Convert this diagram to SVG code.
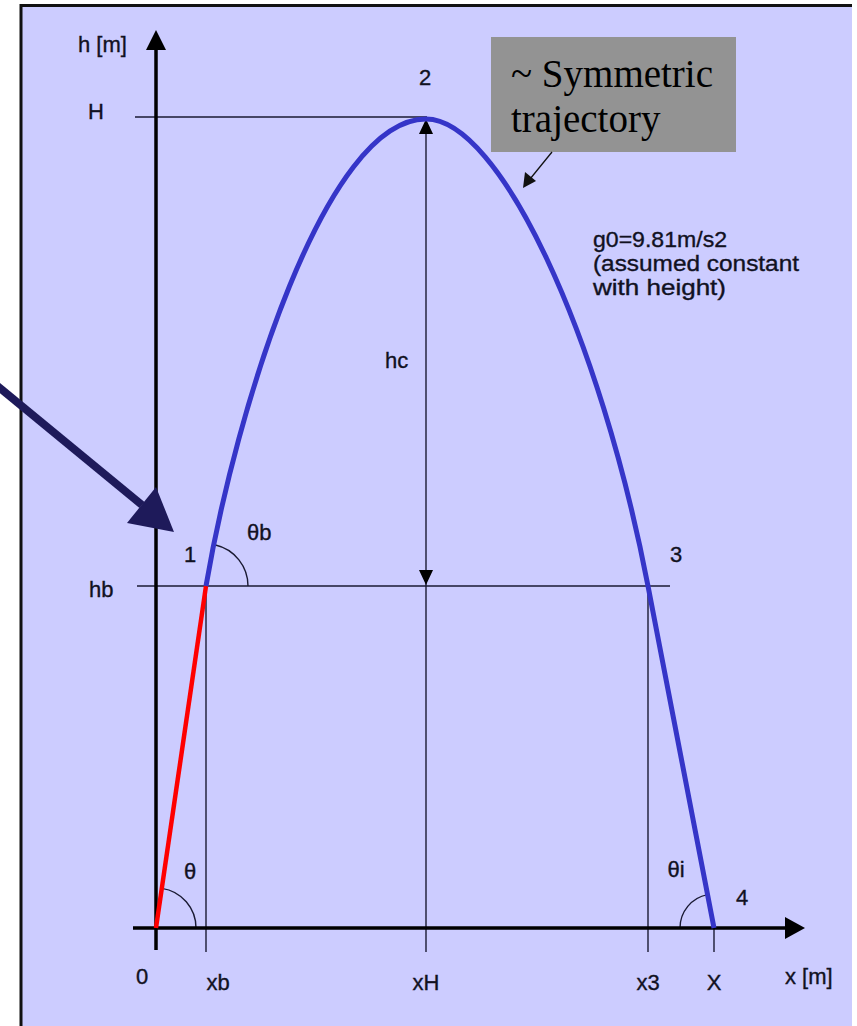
<svg xmlns="http://www.w3.org/2000/svg" width="857" height="1026" viewBox="0 0 857 1026">
<style>
.lbl{font-family:"Liberation Sans",Arial,sans-serif;font-size:22px;fill:#111122;stroke:#111122;stroke-width:0.35}
.thin{stroke:#1a1a33;stroke-width:1.4;fill:none}
.axis{stroke:#000;stroke-width:3.5;fill:none}
.box{font-family:"Liberation Serif","Times New Roman",serif;font-size:39px;fill:#000}
</style>
<rect x="0" y="0" width="857" height="1026" fill="#ffffff"/>
<rect x="20" y="5" width="832" height="1021" fill="#CCCCFF"/>
<path d="M21,1026 V5.5 H852" stroke="#111" stroke-width="3" fill="none"/>

<g id="guides">
<line class="thin" x1="135" y1="117" x2="427" y2="117"/>
<line class="thin" x1="137" y1="586" x2="670" y2="586"/>
<line class="thin" x1="206" y1="586" x2="206" y2="952"/>
<line class="thin" x1="426" y1="119" x2="426" y2="952"/>
<line class="thin" x1="648" y1="586" x2="648" y2="952"/>
<line class="thin" x1="714" y1="928" x2="714" y2="952"/>
<polygon points="426,119 419,134 433,134" fill="#000"/>
<polygon points="426,585 419,570 433,570" fill="#000"/>
<path class="thin" d="M196,928 A40,40 0 0 0 161.8,888.4"/>
<path class="thin" d="M248,586 A42,42 0 0 0 215.5,545"/>
<path class="thin" d="M680,928 A34,34 0 0 1 707.5,894.6"/>
</g>

<g id="axes">
<line class="axis" x1="156" y1="48" x2="156" y2="950"/>
<polygon points="156,30 146,50 166,50" fill="#000"/>
<line class="axis" x1="133" y1="928" x2="786" y2="928"/>
<polygon points="805,928 785,917 785,939" fill="#000"/>
</g>

<g id="trajectory">
<line x1="156" y1="928" x2="206" y2="586" stroke="#FF0000" stroke-width="4.5"/>
<path d="M206,586 C236,410 325,119 426,119 C500,119 600,336 648,586 L714,928" stroke="#3535C8" stroke-width="5" fill="none" stroke-linejoin="round"/>
</g>

<g id="note-box">
<rect x="491" y="37" width="245" height="115" fill="#939393"/>
<text class="box" x="511" y="87">~ Symmetric</text>
<text class="box" x="511" y="132">trajectory</text>
</g>

<g id="connectors">
<line x1="552" y1="152" x2="530" y2="179" stroke="#111" stroke-width="1.3"/>
<polygon points="523,188 525,172 536,181" fill="#111"/>
<line x1="-5" y1="384" x2="142" y2="505" stroke="#1E1A5A" stroke-width="8"/>
<polygon points="174,532 127,523 156,487" fill="#1E1A5A"/>
</g>

<g id="labels">
<text class="lbl" x="78" y="52">h [m]</text>
<text class="lbl" x="88" y="119">H</text>
<text class="lbl" x="425" y="85" text-anchor="middle">2</text>
<text class="lbl" x="385" y="368">hc</text>
<text class="lbl" x="247" y="540">θb</text>
<text class="lbl" x="190" y="562" text-anchor="middle">1</text>
<text class="lbl" x="676" y="562" text-anchor="middle">3</text>
<text class="lbl" x="89" y="597">hb</text>
<text class="lbl" x="190" y="879" text-anchor="middle">θ</text>
<text class="lbl" x="676" y="877" text-anchor="middle">θi</text>
<text class="lbl" x="742" y="905" text-anchor="middle">4</text>
<text class="lbl" x="142" y="984" text-anchor="middle">0</text>
<text class="lbl" x="218" y="990" text-anchor="middle">xb</text>
<text class="lbl" x="426" y="990" text-anchor="middle">xH</text>
<text class="lbl" x="648" y="990" text-anchor="middle">x3</text>
<text class="lbl" x="714" y="990" text-anchor="middle">X</text>
<text class="lbl" x="785" y="984">x [m]</text>
<text class="lbl" x="593" y="247" textLength="134" lengthAdjust="spacingAndGlyphs">g0=9.81m/s2</text>
<text class="lbl" x="593" y="271" textLength="206" lengthAdjust="spacingAndGlyphs">(assumed constant</text>
<text class="lbl" x="593" y="295" textLength="133" lengthAdjust="spacingAndGlyphs">with height)</text>
</g>
</svg>
